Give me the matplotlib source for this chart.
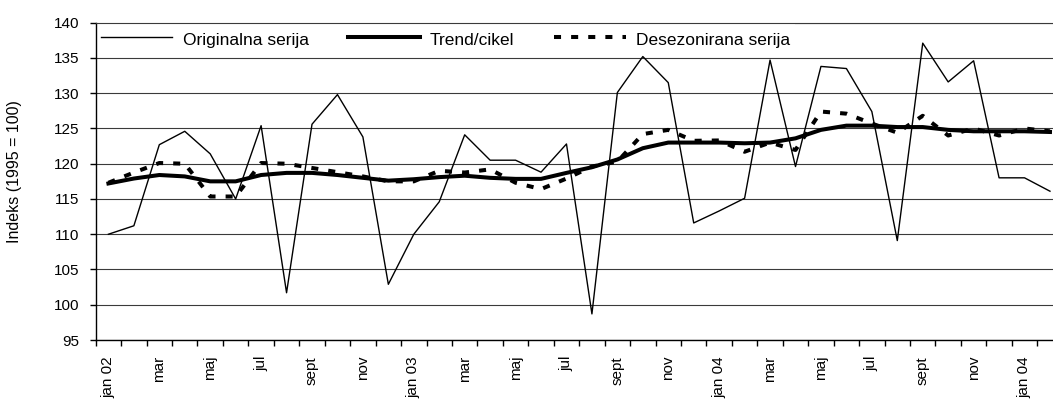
import numpy as np
import matplotlib
matplotlib.use('Agg')
import matplotlib.pyplot as plt

plt.rcParams['font.family'] = ['Liberation Sans', 'DejaVu Sans']

# month labels (every second month is labelled)
tick_labels = ['jan 02', 'mar', 'maj', 'jul', 'sept', 'nov',
               'jan 03', 'mar', 'maj', 'jul', 'sept', 'nov',
               'jan 04', 'mar', 'maj', 'jul', 'sept', 'nov', 'jan 04']

# index values, jan 02 .. feb 05 (38 months)
originalna = [110.0, 111.2, 122.7, 124.6, 121.4, 115.0, 125.4, 101.7, 125.6, 129.8, 123.8, 102.9,
              110.0, 114.6, 124.1, 120.5, 120.5, 118.8, 122.8, 98.7, 130.1, 135.2, 131.5, 111.6,
              113.3, 115.1, 134.7, 119.6, 133.8, 133.5, 127.4, 109.1, 137.1, 131.6, 134.6, 118.0,
              118.0, 116.1]
trend = [117.2, 117.9, 118.4, 118.2, 117.5, 117.5, 118.4, 118.7, 118.7, 118.4, 118.0, 117.6,
         117.8, 118.1, 118.3, 118.0, 117.85, 117.85, 118.7, 119.5, 120.6, 122.2, 123.0, 123.0,
         123.0, 122.9, 123.0, 123.6, 124.8, 125.4, 125.4, 125.2, 125.2, 124.8, 124.6, 124.6,
         124.6, 124.5]
desezonirana = [117.3, 118.75, 120.1, 120.0, 115.35, 115.35, 120.1, 120.0, 119.4, 118.8, 118.2, 117.5,
                117.5, 119.0, 118.75, 119.2, 117.3, 116.4, 117.9, 119.6, 120.3, 124.2, 124.8, 123.25,
                123.3, 121.7, 123.0, 121.95, 127.4, 127.1, 125.7, 124.4, 126.8, 124.0, 125.0, 124.0,
                125.0, 124.6]

x = np.arange(len(originalna))

fig = plt.figure(figsize=(10.53, 4.01), dpi=100)
ax = fig.add_axes([95.7 / 1053, 1 - 340 / 401, 967 / 1053, 317.3 / 401])

ax.plot(x, originalna, color='black', lw=1.0, label='Originalna serija', zorder=3)
ax.plot(x, trend, color='black', lw=2.9, label='Trend/cikel', zorder=3.1)
ax.plot(x, desezonirana, color='black', lw=2.9, ls=(0, (1.75, 2.5)),
        dash_capstyle='butt', label='Desezonirana serija', zorder=3.2)

ax.set_xlim(-0.5, len(x) - 0.5)
ax.set_ylim(95, 140)
ax.set_yticks(np.arange(95, 141, 5))
ax.yaxis.grid(True, color='#3a3a3a', lw=0.8)
ax.set_axisbelow(True)

# labels in the middle of the months, tick marks between months
ax.set_xticks(x[::2])
ax.set_xticklabels(tick_labels, rotation=90)
ax.set_xticks(np.arange(-0.5, len(x), 1), minor=True)
ax.tick_params(axis='x', which='major', length=0, pad=11.5, labelsize=11)
ax.tick_params(axis='x', which='minor', length=4, width=1, direction='out')
ax.tick_params(axis='y', length=4.5, width=1, pad=7, labelsize=11)

for side in ['left', 'bottom', 'top']:
    ax.spines[side].set_linewidth(1.0)
    ax.spines[side].set_color('black')
ax.spines['top'].set_color('#3a3a3a')
ax.spines['top'].set_linewidth(0.8)
ax.spines['right'].set_visible(False)

ax.set_ylabel('Indeks (1995 = 100)', fontsize=11.5)
ax.yaxis.set_label_coords(-0.0765, 0.53)

leg = ax.legend(loc='upper left', bbox_to_anchor=(0, 1), ncol=3, frameon=True,
                fancybox=False, edgecolor='white', facecolor='white', framealpha=1,
                borderaxespad=0, borderpad=0.3, handlelength=4.1, handletextpad=0.6,
                columnspacing=2.3, handleheight=1.7, fontsize=12.5)
leg.get_frame().set_linewidth(0)
leg.set_zorder(2.2)

fig.savefig('out.png', dpi=100)
